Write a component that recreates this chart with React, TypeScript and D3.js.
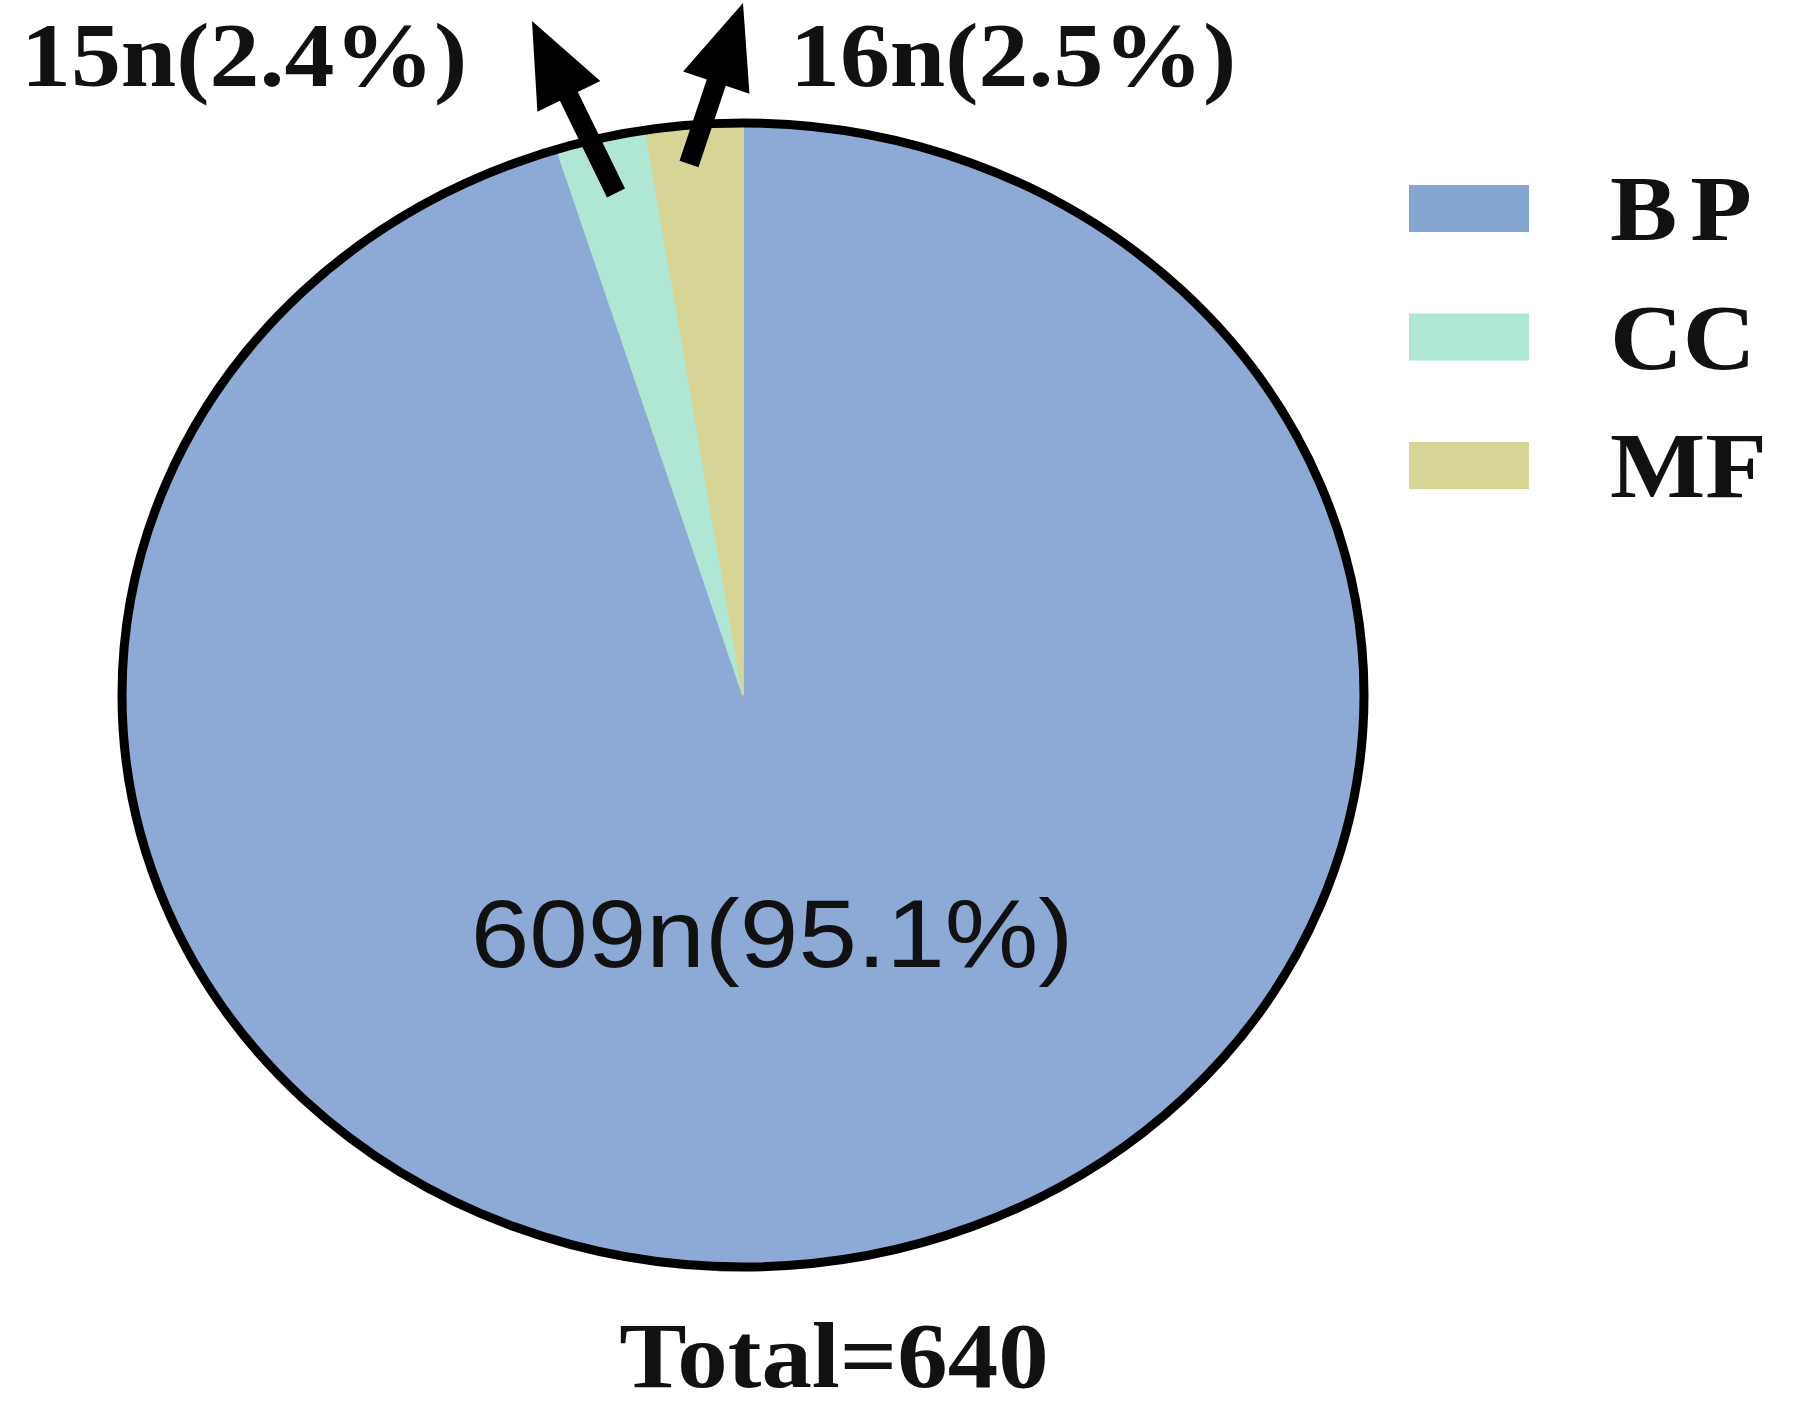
import React from "react";
import * as d3 from "d3";

const categories = ["BP", "CC", "MF"];
const counts = [609, 15, 16];
const colors = ["#8CAAD5", "#B0E6D4", "#D7D596"];
const legendColors = ["#84A4D2", "#B0E6D4", "#D7D596"];
const total = 640;
const labelTexts = ["609n(95.1%)", "15n(2.4%)", "16n(2.5%)"];

// annotation arrows: [tailX, tailY, tipX, tipY]
const arrows = [
  [616, 193, 532, 21],
  [689, 164, 743, 3],
];

const W = 1800;
const H = 1422;
const cx = 743;
const cy = 695;
const rx = 621;
const ry = 572;
const R = 100;
const SX = 1.085;

function arrowPath(a: number[]) {
  const [x1, y1, x2, y2] = a;
  const dx = x2 - x1, dy = y2 - y1;
  const len = Math.hypot(dx, dy);
  const ux = dx / len, uy = dy / len;
  const px = -uy, py = ux;
  const headL = 84, headW = 35, shaft = 10;
  const bx = x2 - ux * headL, by = y2 - uy * headL;
  const pts = [
    [x1 + px * shaft, y1 + py * shaft],
    [bx + px * shaft, by + py * shaft],
    [bx + px * headW, by + py * headW],
    [x2, y2],
    [bx - px * headW, by - py * headW],
    [bx - px * shaft, by - py * shaft],
    [x1 - px * shaft, y1 - py * shaft],
  ];
  return "M" + pts.map((p) => p.join(",")).join("L") + "Z";
}

export default function App() {
  const data = categories.map((c, i) => ({ c, v: counts[i], color: colors[i] }));
  const pie = d3.pie<any>().value((d) => d.v).sort(null).startAngle(0).endAngle(2 * Math.PI);
  const arcs = pie(data);
  const arc = d3.arc<any>().innerRadius(0).outerRadius(R);
  const serif = "'Liberation Serif', 'Times New Roman', serif";
  const sans = "'Liberation Sans', Arial, sans-serif";
  const legendY = d3.scalePoint<string>().domain(categories).range([209, 466]);

  return (
    <svg width={W} height={H} style={{ position: "absolute", left: 0, top: 0, background: "#fff" }}>
      <rect width={W} height={H} fill="#fff" />
      <g transform={`translate(${cx},${cy}) scale(${rx / R},${ry / R})`}>
        {arcs.map((a, i) => (
          <path key={i} d={arc(a) as string} fill={a.data.color} stroke={a.data.color} strokeWidth={0.3} />
        ))}
      </g>
      <ellipse cx={cx} cy={cy} rx={rx} ry={ry} fill="none" stroke="#000" strokeWidth={9} />
      {arrows.map((a, i) => (
        <path key={i} d={arrowPath(a)} fill="#000" />
      ))}
      <text transform={`translate(772,967) scale(${SX},1)`} textAnchor="middle" fontFamily={sans} fontSize={97} fill="#111">
        {labelTexts[0]}
      </text>
      <text transform={`translate(21,86) scale(${SX},1)`} fontFamily={serif} fontWeight="bold" fontSize={92} fill="#111">
        {labelTexts[1]}
      </text>
      <text transform={`translate(790,86) scale(${SX},1)`} fontFamily={serif} fontWeight="bold" fontSize={92} fill="#111">
        {labelTexts[2]}
      </text>
      <text transform={`translate(834,1387) scale(${SX},1)`} textAnchor="middle" fontFamily={serif} fontWeight="bold" fontSize={93} fill="#111">
        {`Total=${total}`}
      </text>
      {categories.map((c, i) => (
        <g key={c}>
          <rect x={1409} y={(legendY(c) as number) - 24} width={120} height={47} fill={legendColors[i]} />
          <text
            transform={`translate(1610,${(legendY(c) as number) + 31}) scale(${SX},1)`}
            fontFamily={serif}
            fontWeight="bold"
            fontSize={93}
            letterSpacing={c === "BP" ? 12 : 0}
            fill="#111"
          >
            {c}
          </text>
        </g>
      ))}
    </svg>
  );
}
